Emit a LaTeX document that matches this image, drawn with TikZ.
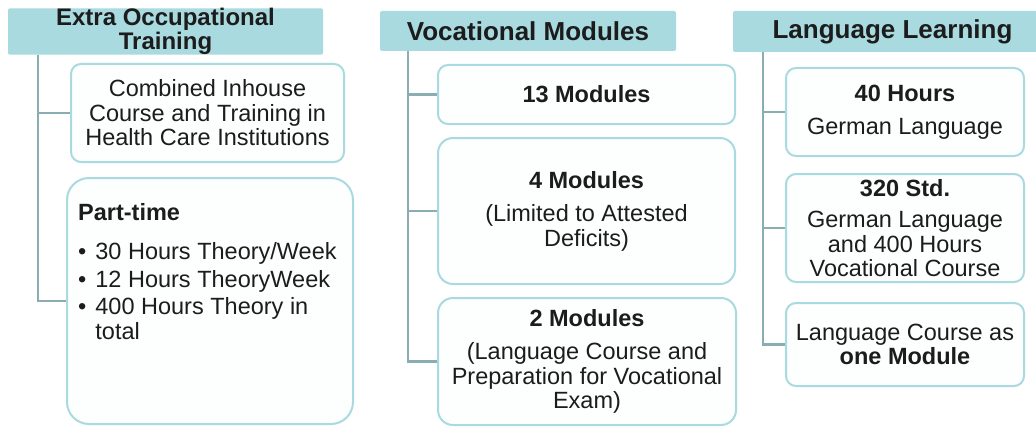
\documentclass[tikz,border=0pt]{standalone}
\usepackage{fontspec}
\setmainfont{Liberation Sans}
\definecolor{hdrfill}{HTML}{A8DADF}
\definecolor{boxline}{HTML}{A9DADF}
\definecolor{boxfill}{HTML}{FDFEFE}
\definecolor{connline}{HTML}{8AADB2}
\definecolor{txt}{HTML}{1C1C1C}
\tikzset{
  hdr/.style={fill=hdrfill, rounded corners=2pt, inner sep=0pt, text=txt,
    font=\fontsize{26}{26}\selectfont\bfseries, align=center},
  item/.style={draw=boxline, line width=2pt, fill=boxfill, rounded corners=10pt,
    inner sep=0pt, text=txt, align=center, font=\fontsize{23.5}{24.5}\selectfont},
  conn/.style={draw=connline, line width=2.5pt}
}
\begin{document}
\begin{tikzpicture}[x=1pt, y=-1pt]
\useasboundingbox (0,0) rectangle (1036,428);
\clip (0,0) rectangle (1036,428);

% column 1: extra occupational training
\node[item, minimum width=273pt, minimum height=98pt] (b11) at (207.5,113)
  {Combined Inhouse\\Course and Training in\\Health Care Institutions};
\node[item, rounded corners=22pt, minimum width=286pt, minimum height=246pt] (b12) at (210,301) {};
\node[anchor=base west, inner sep=0pt, text=txt, font=\fontsize{23.5}{24.5}\selectfont] (b12t) at (78,220)
  {\begin{tabular}[t]{@{}l@{\hspace{9pt}}l@{}}
   \multicolumn{2}{@{}l}{\textbf{Part-time}}\\[15pt]
   \textbullet & 30 Hours Theory/Week\\[3pt]
   \textbullet & 12 Hours TheoryWeek\\[3pt]
   \textbullet & 400 Hours Theory in\\
               & total
   \end{tabular}};
\node[hdr, minimum width=315pt, minimum height=43pt, font=\fontsize{24}{24}\selectfont\bfseries] (h1) at (165.5,31.5)
  {Extra Occupational\\Training};
\draw[conn] ([xshift=30pt]h1.south west) |- (b11.west);
\draw[conn] ([xshift=30pt]h1.south west) |- (b12.west);

% column 2: vocational modules
\node[item, minimum width=297pt, minimum height=59pt] (b21) at (586.5,94.5) {\textbf{13 Modules}};
\node[item, rounded corners=15pt, minimum width=297pt, minimum height=146pt] (b22) at (586.5,211)
  {\textbf{4 Modules}\\[9pt](Limited to Attested\\Deficits)};
\node[item, rounded corners=15pt, minimum width=298pt, minimum height=127pt] (b23) at (587,361.5)
  {\textbf{2 Modules}\\[9pt](Language Course and\\Preparation for Vocational\\Exam)};
\node[hdr, minimum width=296pt, minimum height=40pt] (h2) at (528,31) {Vocational Modules};
\draw[conn] ([xshift=28pt]h2.south west) |- (b21.west);
\draw[conn] ([xshift=28pt]h2.south west) |- (b22.west);
\draw[conn] ([xshift=28pt]h2.south west) |- (b23.west);

% column 3: language learning
\node[item, minimum width=238pt, minimum height=88pt] (b31) at (905,112)
  {\textbf{40 Hours}\\[8pt]German Language};
\node[item, minimum width=238pt, minimum height=108pt] (b32) at (905,228)
  {\textbf{320 Std.}\\[7pt]German Language\\and 400 Hours\\Vocational Course};
\node[item, minimum width=238pt, minimum height=83pt] (b33) at (905,344.5)
  {Language Course as\\\textbf{one Module}};
\node[hdr, minimum width=319pt, minimum height=41pt] (h3) at (892.5,31.5) {Language Learning};
\draw[conn] ([xshift=30pt]h3.south west) |- (b31.west);
\draw[conn] ([xshift=30pt]h3.south west) |- (b32.west);
\draw[conn] ([xshift=30pt]h3.south west) |- (b33.west);
\end{tikzpicture}
\end{document}
